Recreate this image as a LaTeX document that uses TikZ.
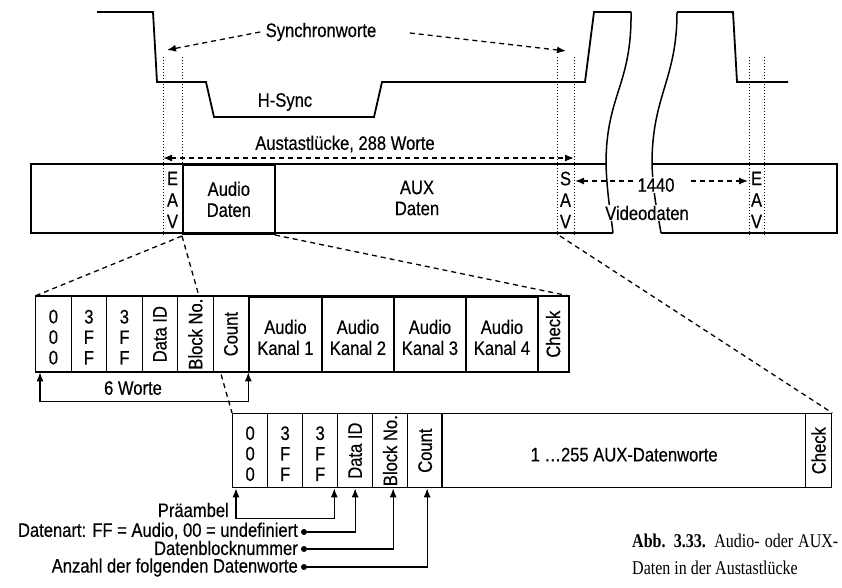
\documentclass[tikz,border=0pt]{standalone}
\usepackage{fontspec}
\setmainfont{Liberation Sans}[FakeStretch=0.85,FakeBold=0.4]
\newfontfamily\capfont{Liberation Serif}[FakeStretch=0.82]
\usetikzlibrary{arrows.meta}
\begin{document}
\begin{tikzpicture}[x=1pt,y=-1pt,
  font=\fontsize{19.5}{21}\selectfont,
  wave/.style={line width=1.8pt, line join=miter},
  brk/.style={line width=1.5pt},
  frame/.style={line width=1.3pt},
  dotv/.style={line width=1pt, dash pattern=on 1pt off 2pt},
  dsh/.style={line width=1.3pt, dash pattern=on 5pt off 4pt},
  lw/.style={line width=1.3pt},
  tip/.style={-{Latex[length=9pt,width=7pt]}},
  tips/.style={{Latex[length=9pt,width=7pt]}-{Latex[length=9pt,width=7pt]}},
  cell/.style={draw, line width=1.3pt, anchor=north west, inner sep=0pt, fill=white},
  acell/.style={cell, minimum height=75pt},
  bcell/.style={cell, minimum height=74pt},
  lbl/.style={inner sep=1pt, align=center},
  stack/.style={lbl, font=\fontsize{19.5}{20.5}\selectfont},
  dot/.style={circle, fill, inner sep=0pt, minimum size=6pt},
]
\useasboundingbox (0,0) rectangle (842,588);

% ---------- waveform ----------
\draw[wave] (97,12) -- (153,12) -- (157,82) -- (206,82) -- (214,117) -- (374,117)
  -- (382,82) -- (585,82) -- (594,12) -- (631,12);
\draw[wave] (677,12) -- (733,12) -- (737,82) -- (788,82);

% ---------- frame ----------
\draw[frame] (606,164) -- (31,164) -- (31,233) -- (613,233);
\draw[frame] (652,164) -- (837,164) -- (837,233) -- (661,233);
\draw[brk] (631,12) .. controls (632,85) and (606,95) .. (606,164)
  .. controls (607,195) and (611,215) .. (613,233);
\draw[brk] (677,12) .. controls (677,80) and (652,95) .. (652,164)
  .. controls (653,195) and (658,215) .. (661,233);

% dotted marker lines
\foreach \xx in {163,182,557,574,749,764}
  \draw[dotv] (\xx,57) -- (\xx,237);

\node[draw, line width=1.7pt, minimum width=92pt, minimum height=69pt, anchor=north west,
  inner sep=0pt, align=center] (audio) at (182,164) {Audio\\Daten};
\node[lbl] (aux) at (417,198) {AUX\\Daten};
\node[stack, font=\fontsize{19.5}{21.5}\selectfont] (eav1) at (172.5,200) {E\\A\\V};
\node[stack, font=\fontsize{19.5}{21.5}\selectfont] (sav) at (565.5,200) {S\\A\\V};
\node[stack, font=\fontsize{19.5}{21.5}\selectfont] (eav2) at (756.5,200) {E\\A\\V};

% 1440 arrows
\coordinate (s2) at (575,181);
\coordinate (e2) at (748,181);
\node[fill=white, inner xsep=4pt, inner ysep=1pt] (n1440) at (656,185) {1440};
\draw[dsh, tip] (n1440.west |- s2) -- (s2);
\draw[dsh, tip] ([xshift=12pt]n1440.east |- e2) -- (e2);
\node[fill=white, inner sep=1pt] (vid) at (647,213) {Videodaten};

% Synchronworte
\node (sync) at (321,32) {Synchronworte};
\coordinate (sy1) at (167,50);
\coordinate (sy2) at (566,51);
\draw[dsh, tip] ([xshift=-2pt]sync.west) -- (sy1);
\draw[dsh, tip] ([xshift=30pt,yshift=-1pt]sync.east) -- (sy2);

\node[lbl] (aus) at (345,144) {Austastlücke, 288 Worte};
\coordinate (au1) at (163,158);
\coordinate (au2) at (574,158);
\draw[dsh, tips] (au1) -- (au2);

\node[lbl] (hs) at (285,102) {H-Sync};

% ---------- zoom lines ----------
\coordinate (z1) at (182,236);
\coordinate (z2) at (275,235);
\coordinate (z3) at (560,236);
\draw[dsh] (z1) -- (232,413);

% ---------- audio packet ----------
\node[acell, minimum width=35.5pt] (a1) at (35,296) {};
\node[acell, minimum width=35.5pt] (a2) at (70.5,296) {};
\node[acell, minimum width=35.5pt] (a3) at (106,296) {};
\node[acell, minimum width=35.5pt] (a4) at (141.5,296) {};
\node[acell, minimum width=35.5pt] (a5) at (177,296) {};
\node[acell, minimum width=35.5pt] (a6) at (212.5,296) {};
\node[acell, minimum width=31pt] (a11) at (537,296) {};
\node[acell, line width=1.9pt, minimum width=73pt] (a7) at (248,296) {};
\node[acell, line width=1.9pt, minimum width=72pt] (a8) at (321,296) {};
\node[acell, line width=1.9pt, minimum width=72pt] (a9) at (393,296) {};
\node[acell, line width=1.9pt, minimum width=72pt] (a10) at (465,296) {};
\draw[lw] (a1.north west) -- (a11.north east) -- (a11.south east) -- (a1.south west);

\node[stack] (ta1) at ([yshift=-3pt]a1.center) {0\\0\\0};
\node[stack] (ta2) at ([yshift=-3pt]a2.center) {3\\F\\F};
\node[stack] (ta3) at ([yshift=-3pt]a3.center) {3\\F\\F};
\node[rotate=90, inner sep=0pt] (ta4) at (a4.center) {Data ID};
\node[rotate=90, inner sep=0pt] (ta5) at (a5.center) {Block No.};
\node[rotate=90, inner sep=0pt] (ta6) at (a6.center) {Count};
\node[lbl] (ta7) at ([yshift=-3pt]a7.center) {Audio\\Kanal 1};
\node[lbl] (ta8) at ([yshift=-3pt]a8.center) {Audio\\Kanal 2};
\node[lbl] (ta9) at ([yshift=-3pt]a9.center) {Audio\\Kanal 3};
\node[lbl] (ta10) at ([yshift=-3pt]a10.center) {Audio\\Kanal 4};
\node[rotate=90, inner sep=0pt] (ta11) at (a11.center) {Check};

\draw[dsh] (z1) -- (a1.north west);
\draw[dsh] (z2) -- (a11.north east);

% 6 Worte
\draw[lw, tips] ([xshift=5pt]a1.south west) -- ++(0,29) -| ([xshift=-1pt]a6.south east);
\node[inner sep=1pt] (w6) at (133,388) {6 Worte};

% ---------- AUX packet ----------
\node[bcell, minimum width=35pt] (b1) at (232,413) {};
\node[bcell, minimum width=35pt] (b2) at (267,413) {};
\node[bcell, minimum width=35pt] (b3) at (302,413) {};
\node[bcell, minimum width=35pt] (b4) at (337,413) {};
\node[bcell, minimum width=35pt] (b5) at (372,413) {};
\node[bcell, minimum width=35pt] (b6) at (407,413) {};
\node[bcell, minimum width=363pt] (b7) at (442,413) {};
\node[bcell, minimum width=26pt] (b8) at (805,413) {};
\draw[line width=2pt] (b7.north west) -- (b7.south west);

\node[stack] (tb1) at ([yshift=-3pt]b1.center) {0\\0\\0};
\node[stack] (tb2) at ([yshift=-3pt]b2.center) {3\\F\\F};
\node[stack] (tb3) at ([yshift=-3pt]b3.center) {3\\F\\F};
\node[rotate=90, inner sep=0pt] (tb4) at (b4.center) {Data ID};
\node[rotate=90, inner sep=0pt] (tb5) at (b5.center) {Block No.};
\node[rotate=90, inner sep=0pt] (tb6) at (b6.center) {Count};
\node[lbl] (tb7) at ([yshift=-4pt]b7.center) {1 …255 AUX-Datenworte};
\node[rotate=90, inner sep=0pt] (tb8) at (b8.center) {Check};

\draw[dsh] (z3) -- (b8.north east);

% ---------- legend ----------
\node[anchor=east, inner sep=0pt] (pre) at (229,510) {Präambel};
\draw[lw, tips] ([xshift=4pt]b1.south west) -- ++(0,30) -| ([xshift=-4pt]b3.south east);

\node[dot] (d1) at (304,532) {};
\node[dot] (d2) at (304,549) {};
\node[dot] (d3) at (304,567) {};
\node[anchor=east, inner sep=0pt] (l1) at (298,531) {Datenart: FF = Audio, 00 = undefiniert};
\node[anchor=east, inner sep=0pt] (l2) at (298,548) {Datenblocknummer};
\node[anchor=east, inner sep=0pt] (l3) at (298,567.5) {Anzahl der folgenden Datenworte};
\draw[lw, tip] (d1) -| (b4.south);
\draw[lw, tip] (d2) -| ([xshift=3pt]b5.south);
\draw[lw, tip] (d3) -| ([xshift=2pt]b6.south);

% ---------- caption ----------
\node[anchor=base west, inner sep=0pt, font=\capfont\fontsize{19.5}{22}\selectfont] (cap1) at (632,547)
  {\makebox[206pt][s]{\textbf{Abb. 3.33.} Audio- oder AUX-}};
\node[anchor=base west, inner sep=0pt, font=\capfont\fontsize{19.5}{22}\selectfont] (cap2) at (632,574)
  {Daten in der Austastlücke};
\end{tikzpicture}
\end{document}
